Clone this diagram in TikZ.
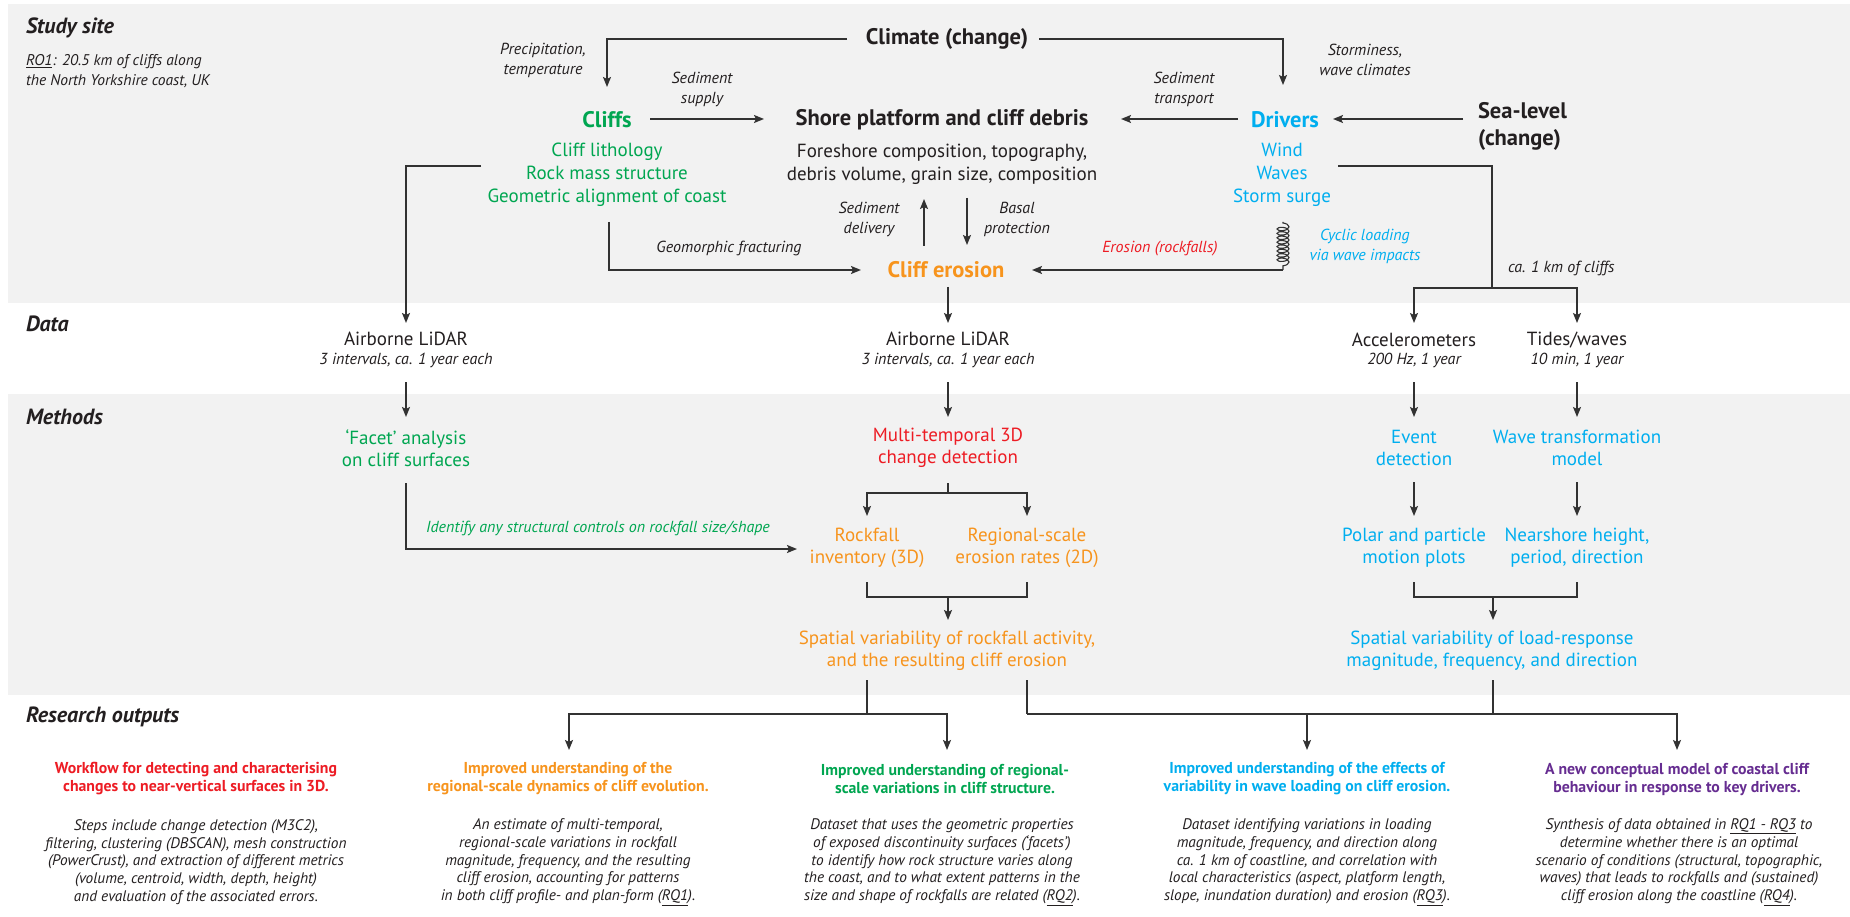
\documentclass[tikz,border=0pt]{standalone}
\usepackage{fontspec}
\setmainfont{PT Sans}
\usetikzlibrary{arrows.meta,decorations.pathmorphing}
\definecolor{ink}{RGB}{35,31,32}
\definecolor{linec}{RGB}{50,50,50}
\definecolor{band}{RGB}{242,242,242}
\definecolor{cgreen}{RGB}{0,166,81}
\definecolor{cblue}{RGB}{0,174,239}
\definecolor{corange}{RGB}{247,148,29}
\definecolor{cred}{RGB}{237,28,36}
\definecolor{cpurple}{RGB}{102,45,145}
\begin{document}
\begin{tikzpicture}[x=1pt,y=-1pt,
  every node/.style={inner sep=0pt, outer sep=0pt, text=ink, align=center},
  txt/.style={font=\fontsize{19}{23}\selectfont},
  mth/.style={font=\fontsize{19}{22}\selectfont},
  lab/.style={font=\itshape\fontsize{16}{20}\selectfont},
  hd/.style={font=\bfseries\fontsize{22.5}{27}\selectfont},
  sec/.style={anchor=west, font=\bfseries\itshape\fontsize{22}{26}\selectfont},
  ttl/.style={font=\bfseries\fontsize{15.8}{18}\selectfont},
  body/.style={font=\itshape\fontsize{15.3}{17.8}\selectfont},
  ln/.style={draw=linec, line width=1.6pt},
  arr/.style={ln, -{Stealth[length=10pt,width=8pt,inset=2pt]}},
  spring/.style={draw=linec, line width=1.1pt, decorate, decoration={coil, aspect=0.45, segment length=4.4pt, amplitude=6pt, pre length=1pt, post length=1pt}},
]
\useasboundingbox (0,0) rectangle (1850,917);
\fill[white] (0,0) rectangle (1850,917);
\fill[band] (8,4) rectangle (1850,303);
\fill[band] (8,394) rectangle (1850,695);

% section labels
\node[sec] (studysite) at (26,28) {Study site};
\node[anchor=west, align=left, font=\itshape\fontsize{15.5}{20}\selectfont] (ro1) at (26,71) {\underline{RO1}: 20.5 km of cliffs along\\the North Yorkshire coast, UK};
\node[sec] (data) at (26,324) {Data};
\node[sec] (methods) at (26,417) {Methods};
\node[sec] (resout) at (26,717) {Research outputs};

% study site
\node[hd] (climate) at (947,39) {Climate (change)};
\node[lab] (precip) at (543,60) {Precipitation,\\temperature};
\node[lab] (storm) at (1365,60) {Storminess,\\wave climates};
\node[hd, text=cgreen] (cliffs) at (607,120) {Cliffs};
\node[txt, text=cgreen] (cliffsub) at (607,175) {Cliff lithology\\Rock mass structure\\Geometric alignment of coast};
\node[hd] (shore) at (942,120) {Shore platform and cliff debris};
\node[txt] (shoresub) at (942,164) {Foreshore composition, topography,\\debris volume, grain size, composition};
\node[hd, text=cblue] (drivers) at (1285,120) {Drivers};
\node[txt, text=cblue] (driverssub) at (1282,175) {Wind\\Waves\\Storm surge};
\node[hd, anchor=west, align=left] (sealevel) at (1478,126) {Sea-level\\(change)};
\node[lab] (sedsup) at (702,89) {Sediment\\supply};
\node[lab] (sedtr) at (1184,89) {Sediment\\transport};
\node[lab] (seddel) at (869,219) {Sediment\\delivery};
\node[lab] (basal) at (1017,219) {Basal\\protection};
\node[hd, text=corange] (erosion) at (946,270) {Cliff erosion};
\node[lab] (geofrac) at (729,249) {Geomorphic fracturing};
\node[lab, text=cred] (erosrock) at (1160,249) {Erosion (rockfalls)};
\node[lab, text=cblue] (cyclic) at (1365,246) {Cyclic loading\\via wave impacts};
\node[lab, anchor=west] (ca1km) at (1508,268) {ca. 1 km of cliffs};

% data
\node[txt] (lidarA) at (406,339) {Airborne LiDAR};
\node[lab] (lidarAs) at (406,360) {3 intervals, ca. 1 year each};
\node[txt] (lidarB) at (948,339) {Airborne LiDAR};
\node[lab] (lidarBs) at (948,360) {3 intervals, ca. 1 year each};
\node[txt] (accel) at (1414,340) {Accelerometers};
\node[lab] (accels) at (1414,360) {200 Hz, 1 year};
\node[txt] (tides) at (1577,340) {Tides/waves};
\node[lab] (tidess) at (1577,360) {10 min, 1 year};

% methods
\node[mth, text=cgreen] (facet) at (406,448) {‘Facet’ analysis\\on cliff surfaces};
\node[mth, text=cred] (multi) at (948,448) {Multi-temporal 3D\\change detection};
\node[mth, text=cblue] (event) at (1414,448) {Event\\detection};
\node[mth, text=cblue] (wave) at (1577,448) {Wave transformation\\model};
\node[lab, text=cgreen] (identify) at (598,528) {Identify any structural controls on rockfall size/shape};
\node[mth, text=corange] (rockfall) at (867,548) {Rockfall\\inventory (3D)};
\node[mth, text=corange] (regional) at (1027,548) {Regional-scale\\erosion rates (2D)};
\node[mth, text=cblue] (polar) at (1414,548) {Polar and particle\\motion plots};
\node[mth, text=cblue] (nearshore) at (1577,548) {Nearshore height,\\period, direction};
\node[mth, text=corange] (spatial1) at (947,651) {Spatial variability of rockfall activity,\\and the resulting cliff erosion};
\node[mth, text=cblue] (spatial2) at (1492,651) {Spatial variability of load-response\\magnitude, frequency, and direction};

% outputs
\node[ttl, text=cred] (out1t) at (196,779) {Workflow for detecting and characterising\\changes to near-vertical surfaces in 3D.};
\node[body] (out1b) at (196,862) {Steps include change detection (M3C2),\\filtering, clustering (DBSCAN), mesh construction\\(PowerCrust), and extraction of different metrics\\(volume, centroid, width, depth, height)\\and evaluation of the associated errors.};
\node[ttl, text=corange] (out2t) at (568,779) {Improved understanding of the\\regional-scale dynamics of cliff evolution.};
\node[body] (out2b) at (568,862) {An estimate of multi-temporal,\\regional-scale variations in rockfall\\magnitude, frequency, and the resulting\\cliff erosion, accounting for patterns\\in both cliff profile- and plan-form (\underline{RQ1}).};
\node[ttl, text=cgreen] (out3t) at (945,779) {Improved understanding of regional-\\scale variations in cliff structure.};
\node[body] (out3b) at (942,862) {Dataset that uses the geometric properties\\of exposed discontinuity surfaces (‘facets’)\\to identify how rock structure varies along\\the coast, and to what extent patterns in the\\size and shape of rockfalls are related (\underline{RQ2}).};
\node[ttl, text=cblue] (out4t) at (1307,779) {Improved understanding of the effects of\\variability in wave loading on cliff erosion.};
\node[body] (out4b) at (1307,862) {Dataset identifying variations in loading\\magnitude, frequency, and direction along\\ca. 1 km of coastline, and correlation with\\local characteristics (aspect, platform length,\\slope, inundation duration) and erosion (\underline{RQ3}).};
\node[ttl, text=cpurple] (out5t) at (1677,779) {A new conceptual model of coastal cliff\\behaviour in response to key drivers.};
\node[body] (out5b) at (1679,862) {Synthesis of data obtained in \underline{RQ1 - RQ3} to\\determine whether there is an optimal\\scenario of conditions (structural, topographic,\\waves) that leads to rockfalls and (sustained)\\cliff erosion along the coastline (\underline{RQ4}).};

% ---- connectors: study site
\draw[arr] ([xshift=-100pt]climate.center) -| ([yshift=33pt]cliffs.center);
\draw[arr] ([xshift=92pt]climate.center) -| ([xshift=-2pt,yshift=35pt]drivers.center);
\draw[arr] ([xshift=43pt,yshift=1pt]cliffs.center) -- ([xshift=-178pt,yshift=1pt]shore.center);
\draw[arr] ([xshift=-47pt,yshift=1pt]drivers.center) -- ([xshift=179pt,yshift=1pt]shore.center);
\draw[arr] ([xshift=-15pt,yshift=7pt]sealevel.west) -- ([xshift=48pt,yshift=1pt]drivers.center);
\draw[arr] ([xshift=-126pt,yshift=9pt]cliffsub.center) -| ([yshift=16pt]lidarA.center);
\draw[arr] ([xshift=2pt,yshift=-47pt]cliffsub.center) |- ([xshift=-85pt]erosion.center);
\draw[arr] ([xshift=-22pt,yshift=24pt]erosion.center) -- ([xshift=-18pt,yshift=-35pt]shoresub.center);
\draw[arr] ([xshift=25pt,yshift=-34pt]shoresub.center) -- ([xshift=21pt,yshift=25pt]erosion.center);
\coordinate (springtop) at ([xshift=1pt,yshift=-47pt]driverssub.center);
\coordinate (springbot) at ([xshift=1pt,yshift=-95pt]driverssub.center);
\draw[spring] (springtop) -- (springbot);
\draw[arr] (springbot) -- ([xshift=86pt]erosion.center);
\draw[arr] ([xshift=2pt,yshift=-17pt]erosion.center) -- ([yshift=16pt]lidarB.center);
\coordinate (dsplit) at (1492,288);
\draw[ln] ([xshift=56pt,yshift=9pt]driverssub.center) -| (dsplit);
\draw[arr] (dsplit) -| ([yshift=17pt]accel.center);
\draw[arr] (dsplit) -| ([yshift=17pt]tides.center);

% ---- data -> methods
\draw[arr] ([yshift=-43pt]lidarA.center) -- ([yshift=31pt]facet.center);
\draw[arr] ([yshift=-43pt]lidarB.center) -- ([yshift=31pt]multi.center);
\draw[arr] ([yshift=-42pt]accel.center) -- ([yshift=31pt]event.center);
\draw[arr] ([yshift=-42pt]tides.center) -- ([yshift=31pt]wave.center);

% ---- methods
\draw[arr] ([yshift=-34pt]event.center) -- ([yshift=32pt]polar.center);
\draw[arr] ([yshift=-34pt]wave.center) -- ([yshift=32pt]nearshore.center);
\coordinate (m2) at (1493,597);
\draw[ln] ([yshift=-34pt]polar.center) |- (m2);
\draw[ln] ([yshift=-34pt]nearshore.center) |- (m2);
\draw[arr] (m2) -- ([xshift=1pt,yshift=31pt]spatial2.center);
\coordinate (s1) at (948,493);
\draw[ln] ([yshift=-35pt]multi.center) -- (s1);
\draw[arr] (s1) -| ([yshift=32pt]rockfall.center);
\draw[arr] (s1) -| ([yshift=32pt]regional.center);
\coordinate (m1) at (948,597);
\draw[ln] ([yshift=-34pt]rockfall.center) |- (m1);
\draw[ln] ([yshift=-34pt]regional.center) |- (m1);
\draw[arr] (m1) -- ([xshift=1pt,yshift=31pt]spatial1.center);
\draw[arr] ([yshift=-35pt]facet.center) |- ([xshift=-70pt,yshift=-1pt]rockfall.center);

% ---- outputs
\coordinate (j1) at (867,714);
\coordinate (j2) at (1027,714);
\coordinate (j3) at (1493,714);
\draw[ln] ([xshift=-80pt,yshift=-29pt]spatial1.center) -- (j1);
\draw[arr] (j1) -| ([xshift=1pt,yshift=29pt]out2t.center);
\draw[arr] (j1) -| ([xshift=2pt,yshift=29pt]out3t.center);
\draw[ln] ([xshift=80pt,yshift=-29pt]spatial1.center) -- (j2);
\draw[arr] (j2) -| ([yshift=29pt]out4t.center);
\draw[arr] (j2) -| ([yshift=29pt]out5t.center);
\draw[ln] ([xshift=1pt,yshift=-29pt]spatial2.center) -- (j3);
\end{tikzpicture}
\end{document}
